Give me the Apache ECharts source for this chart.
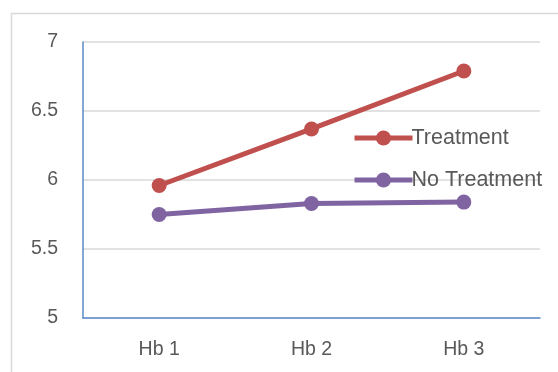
<!DOCTYPE html>
<html>
<head>
<meta charset="utf-8">
<script src="https://cdn.jsdelivr.net/npm/echarts@6/dist/echarts.min.js"></script>
<style>
  html, body { margin: 0; padding: 0; background: #fff; }
  #chart { width: 558px; height: 372px; }
</style>
</head>
<body>
<div id="chart"></div>
<script>
// Haemoglobin readings per visit
const categories = ['Hb 1', 'Hb 2', 'Hb 3'];
const treatment = [5.96, 6.37, 6.79];
const noTreatment = [5.75, 5.83, 5.84];
const seriesNames = ['Treatment', 'No Treatment'];

const chart = echarts.init(document.getElementById('chart'), null, { renderer: 'canvas' });
const fontFamily = 'Liberation Sans, Arial, sans-serif';
const axisFont = { fontFamily: fontFamily, fontSize: 19.5, color: '#595959' };

chart.setOption({
  animation: false,
  backgroundColor: '#fff',
  graphic: [{
    type: 'rect',
    shape: { x: 11.5, y: 13.5, width: 560, height: 370 },
    style: { fill: 'none', stroke: '#D9D9D9', lineWidth: 1.5 },
    silent: true
  }],
  grid: { left: 83, right: 18, top: 42, bottom: 54, containLabel: false },
  legend: {
    orient: 'vertical',
    left: 347,
    top: 122,
    itemWidth: 58,
    itemHeight: 19,
    itemGap: 20,
    lineStyle: { width: 5 },
    textStyle: { fontFamily: fontFamily, fontSize: 21.5, color: '#595959', padding: [0, 0, 0, -6] },
    data: seriesNames
  },
  xAxis: {
    type: 'category',
    data: categories,
    boundaryGap: true,
    axisLine: { lineStyle: { color: '#5B8BC9', width: 1.5 } },
    axisTick: { show: false },
    axisLabel: Object.assign({}, axisFont, { margin: 22 })
  },
  yAxis: {
    type: 'value',
    min: 5,
    max: 7,
    interval: 0.5,
    axisLine: { show: true, lineStyle: { color: '#5B8BC9', width: 1.5 } },
    axisTick: { show: false },
    axisLabel: Object.assign({}, axisFont, { margin: 25 }),
    splitLine: { lineStyle: { color: '#D9D9D9', width: 1.5 } }
  },
  series: [
    {
      name: seriesNames[0],
      type: 'line',
      data: treatment,
      symbol: 'circle',
      symbolSize: 15,
      color: '#C0504D',
      lineStyle: { width: 5, color: '#C0504D' },
      itemStyle: { color: '#C0504D' }
    },
    {
      name: seriesNames[1],
      type: 'line',
      data: noTreatment,
      symbol: 'circle',
      symbolSize: 15,
      color: '#8064A2',
      lineStyle: { width: 5, color: '#8064A2' },
      itemStyle: { color: '#8064A2' }
    }
  ]
});
</script>
</body>
</html>
